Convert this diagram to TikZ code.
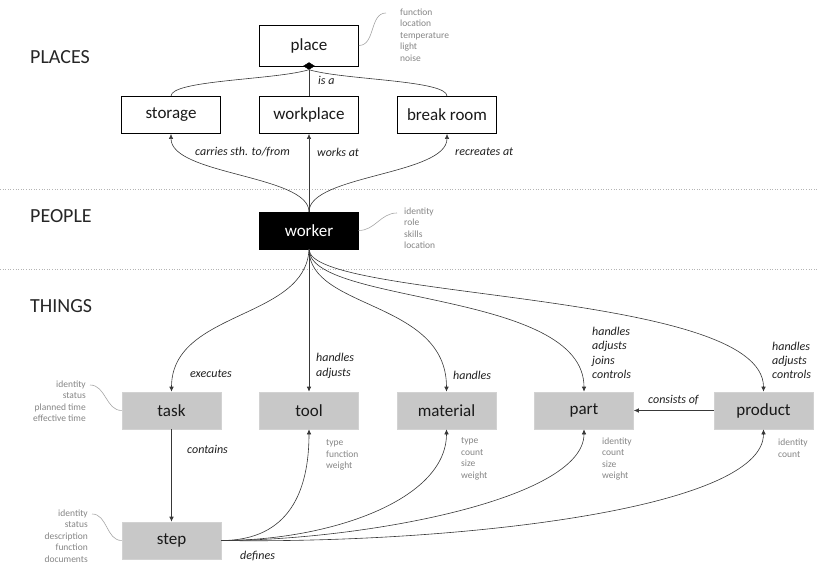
\documentclass[tikz,border=0pt]{standalone}
\usepackage{fontspec}
\setmainfont{Carlito}
\usetikzlibrary{arrows.meta,shapes.geometric}
\definecolor{thingfill}{HTML}{C8C8C8}
\definecolor{thingdraw}{HTML}{D2D2D2}
\definecolor{attrtext}{HTML}{858585}
\definecolor{attrline}{HTML}{A6A6A6}
\definecolor{conn}{HTML}{383838}
\definecolor{sepline}{HTML}{B4B4B4}
\definecolor{labeltext}{HTML}{1E1E1E}
\begin{document}
\begin{tikzpicture}[x=1pt,y=-1pt,
  placebox/.style={draw=black, line width=0.8pt, fill=white, minimum width=99pt, minimum height=37pt, inner sep=0pt, font=\fontsize{17}{20}\selectfont, text=black!90},
  workerbox/.style={draw=black, fill=black, minimum width=99pt, minimum height=37pt, inner sep=0pt, font=\fontsize{17}{20}\selectfont, text=white},
  thingbox/.style={draw=thingdraw, line width=0.6pt, fill=thingfill, minimum width=99pt, minimum height=37pt, inner sep=0pt, font=\fontsize{17}{20}\selectfont, text=black!90},
  section/.style={anchor=west, inner sep=0pt, font=\fontsize{20}{24}\selectfont, text=black!85},
  attr/.style={inner sep=0pt, font=\fontsize{9.5}{11.5}\selectfont, text=attrtext},
  attrcurve/.style={draw=attrline, line width=0.6pt},
  rel/.style={inner sep=0pt, anchor=west, align=left, font=\fontsize{12}{14.3}\selectfont\itshape, text=labeltext},
  link/.style={draw=conn, line width=0.6pt},
  arr/.style={link, -{Latex[length=5pt,width=4.5pt]}},
  sep/.style={draw=sepline, line width=0.6pt, dotted}
]
\useasboundingbox (0,0) rectangle (817,564);

% separators
\coordinate (s1a) at (0,189); \coordinate (s1b) at (817,189);
\coordinate (s2a) at (0,269); \coordinate (s2b) at (817,269);
\draw[sep] (s1a) -- (s1b);
\draw[sep] (s2a) -- (s2b);

% section titles
\node[section] (tplaces) at (30,57) {PLACES};
\node[section] (tpeople) at (30,216) {PEOPLE};
\node[section] (tthings) at (30,306) {THINGS};

% places
\node[placebox, minimum height=41pt] (place) at (309,45.5) {place};
\node[placebox] (storage) at (171,115) {storage};
\node[placebox] (workplace) at (309,115) {workplace};
\node[placebox] (breakroom) at (447,115) {break room};
\node[diamond, fill=black, draw=black, minimum width=11pt, minimum height=7pt, inner sep=0pt] (dia) at (309,66) {};

\draw[link] (storage.north) .. controls (171,80) and (275,80) .. (dia.south);
\draw[link] (breakroom.north) .. controls (447,80) and (343,80) .. (dia.south);
\draw[link] (workplace.north) -- (dia.south);
\node[rel] (isa) at (318,80) {is a};

\node[attr, anchor=west, align=left] (placeattr) at (400,35) {function\\location\\temperature\\light\\noise};
\coordinate (pa) at (386,13);
\draw[attrcurve] (place.east) to[out=0,in=180] (pa);

% worker
\node[workerbox] (worker) at (309,230.5) {worker};
\node[attr, anchor=west, align=left] (workerattr) at (404,228) {identity\\role\\skills\\location};
\coordinate (wa) at (397,213);
\draw[attrcurve] (worker.east) to[out=0,in=180] (wa);

\draw[arr] (worker.north) .. controls (309,175) and (171,175) .. (storage.south);
\draw[arr] (worker.north) -- (workplace.south);
\draw[arr] (worker.north) .. controls (309,175) and (447,175) .. (breakroom.south);
\node[rel] (lcarries) at (195,152) {carries sth. to/from};
\node[rel] (lworks) at (317,152) {works at};
\node[rel] (lrecreates) at (455,152) {recreates at};

% things
\node[thingbox] (task) at (171.5,410.5) {task};
\node[thingbox] (tool) at (309,410.5) {tool};
\node[thingbox] (material) at (446.5,410.5) {material};
\node[thingbox] (part) at (584,410.5) {part};
\node[thingbox] (product) at (763.5,410.5) {product};
\node[thingbox] (step) at (171.5,540.5) {step};

\draw[arr] (worker.south) .. controls (306,320) and (171.5,310) .. (task.north);
\draw[arr] (worker.south) -- (tool.north);
\draw[arr] (worker.south) .. controls (309,310) and (446.5,300) .. (material.north);
\draw[arr] (worker.south) .. controls (309,305) and (584,290) .. (part.north);
\draw[arr] (worker.south) .. controls (309,300) and (763.5,290) .. (product.north);

\node[rel] (lexec) at (190,374) {executes};
\node[rel] (ltool) at (316,366) {handles\\adjusts};
\node[rel] (lmat) at (453,375) {handles};
\node[rel] (lpart) at (592,353) {handles\\adjusts\\joins\\controls};
\node[rel] (lprod) at (772,360.5) {handles\\adjusts\\controls};

\draw[arr] (product.west) -- (part.east);
\node[rel] (lconsists) at (648,400) {consists of};

\draw[arr] (task.south) -- (step.north);
\node[rel] (lcontains) at (187,449) {contains};

\draw[arr] (step.east) .. controls (290,540.5) and (309,490) .. (tool.south);
\draw[arr] (step.east) .. controls (330,540.5) and (446.5,500) .. (material.south);
\draw[arr] (step.east) .. controls (360,540.5) and (584,500) .. (part.south);
\draw[arr] (step.east) .. controls (450,544) and (763.5,510) .. (product.south);
\node[rel] (ldefines) at (240,556) {defines};

% attributes of things
\node[attr, anchor=east, align=right] (taskattr) at (86,401) {identity\\status\\planned time\\effective time};
\coordinate (ta) at (90,385);
\draw[attrcurve] (ta) to[out=0,in=180] (task.west);
\node[attr, anchor=east, align=right] (stepattr) at (88,536) {identity\\status\\description\\function\\documents};
\coordinate (sa) at (92,514);
\draw[attrcurve] (sa) to[out=0,in=180] (step.west);

\node[attr, anchor=west, align=left] (toolattr) at (326,455) {type\\function\\weight};
\node[attr, anchor=west, align=left] (matattr) at (461,459) {type\\count\\size\\weight};
\node[attr, anchor=west, align=left] (partattr) at (602,459) {identity\\count\\size\\weight};
\node[attr, anchor=west, align=left] (prodattr) at (778,448) {identity\\count};
\end{tikzpicture}
\end{document}
